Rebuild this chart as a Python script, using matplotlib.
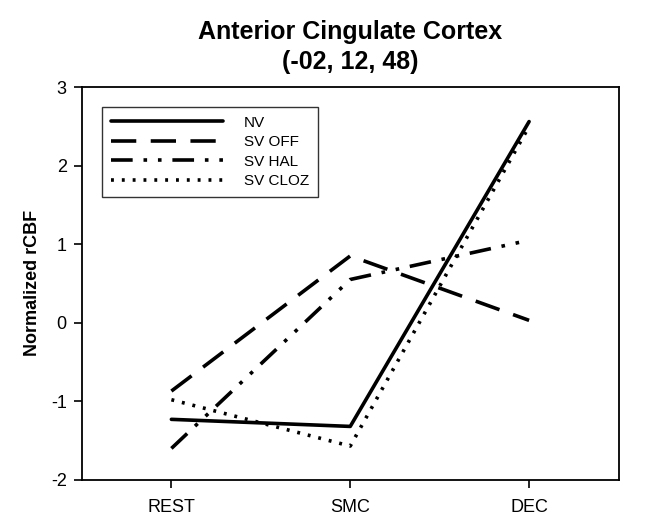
import matplotlib.pyplot as plt
import numpy as np

plt.rcParams['font.family'] = ['Liberation Sans', 'DejaVu Sans']
plt.rcParams['axes.unicode_minus'] = False

conditions = ["REST", "SMC", "DEC"]
nv = [-1.23, -1.32, 2.56]
sv_off = [-0.87, 0.85, 0.03]
sv_hal = [-1.60, 0.55, 1.05]
sv_cloz = [-0.98, -1.57, 2.50]

fig = plt.figure(figsize=(6.48, 5.21), dpi=100)
ax = fig.add_axes([0.1265, 0.079, 0.828, 0.754])

x = np.arange(1, len(conditions) + 1)
ax.plot(x, nv, color="black", lw=2.6, ls="-", label="NV", solid_capstyle="round")
ax.plot(x, sv_off, color="black", lw=2.6, ls=(0, (7, 4)), label="SV OFF")
ax.plot(x, sv_hal, color="black", lw=2.6, ls=(0, (6, 3, 1, 3, 1, 3)), label="SV HAL")
ax.plot(x, sv_cloz, color="black", lw=2.6, ls=(0, (0.8, 2.2)), label="SV CLOZ")

ax.set_xlim(0.5, 3.5)
ax.set_ylim(-2, 3)
ax.set_xticks(x)
ax.set_xticklabels(conditions, fontsize=13)
ax.set_yticks(range(-2, 4))
ax.tick_params(axis="y", labelsize=13, direction="out", length=6, width=1.2, pad=5)
ax.tick_params(axis="x", direction="out", length=6, width=1.2, pad=8)
for s in ax.spines.values():
    s.set_linewidth(1.3)

ax.set_ylabel("Normalized rCBF", fontsize=13, fontweight="bold", labelpad=7)
ax.set_title("Anterior Cingulate Cortex\n(-02, 12, 48)", fontsize=18,
             fontweight="bold", pad=13, linespacing=1.3)

leg = ax.legend(loc="upper left", bbox_to_anchor=(0.037, 0.95), fontsize=11,
                handlelength=7.3, handletextpad=1.4, labelspacing=0.35,
                frameon=True, fancybox=False, edgecolor="black", borderpad=0.6,
                borderaxespad=0)
leg.get_frame().set_linewidth(1.0)

plt.savefig("out.png", dpi=100)
